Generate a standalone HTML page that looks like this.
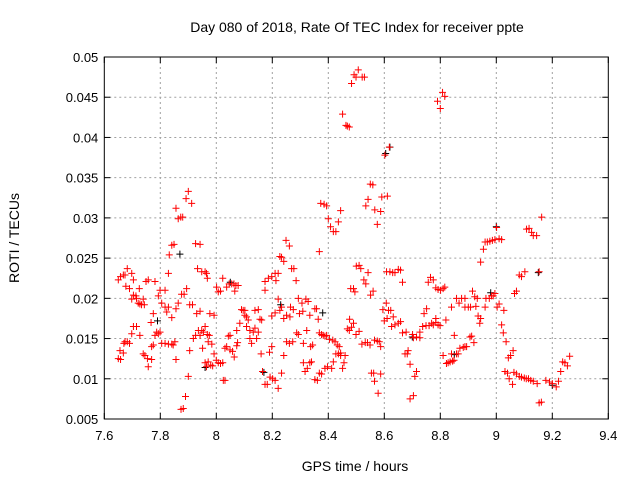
<!DOCTYPE html>
<html><head><meta charset="utf-8"><style>
html,body{margin:0;padding:0;background:#fff;}
svg{display:block;font-family:"Liberation Sans",sans-serif;}
</style></head><body>
<svg id="chart" width="640" height="480" viewBox="0 0 640 480" xmlns="http://www.w3.org/2000/svg">
<rect width="640" height="480" fill="#fff"/>
<text x="357" y="32" text-anchor="middle" font-size="14" fill="#000">Day 080 of 2018, Rate Of TEC Index for receiver ppte</text>
<text x="355" y="471" text-anchor="middle" font-size="14" fill="#000">GPS time / hours</text>
<text transform="translate(19,238) rotate(-90)" text-anchor="middle" font-size="14" fill="#000">ROTI / TECUs</text>
<g id="grid"></g>
<g id="ticks"></g>
<g id="marks"></g>
<rect x="104.3" y="57" width="504" height="362" fill="none" stroke="#000" stroke-width="1"/>
</svg>
<script>
const xTicks = [7.6,7.8,8.0,8.2,8.4,8.6,8.8,9.0,9.2,9.4];
const xTickLabels = ["7.6","7.8","8","8.2","8.4","8.6","8.8","9","9.2","9.4"];
const yTicks = [0.005,0.01,0.015,0.02,0.025,0.03,0.035,0.04,0.045,0.05];
const yTickLabels = ["0.005","0.01","0.015","0.02","0.025","0.03","0.035","0.04","0.045","0.05"];
const blackPoints = [[8.605,0.038],[8.85,0.013],[8.98,0.0207],[9.0,0.0289],[9.15,0.0232],[8.38,0.0182],[7.96,0.0114],[8.23,0.0192],[7.87,0.0255],[8.05,0.022],[8.62,0.0388],[8.7,0.0152],[9.2,0.0092],[8.17,0.0108],[7.79,0.0172]];
const redPoints = [
[7.65,0.0125],[7.658,0.0124],[7.656,0.0135],[7.668,0.0132],[7.67,0.0144],[7.674,0.0146],[7.682,0.0146],[7.69,0.0144],
[7.65,0.0223],[7.658,0.0227],[7.668,0.0229],[7.674,0.0229],[7.682,0.0237],[7.698,0.0231],[7.704,0.0223],[7.677,0.0215],[7.69,0.0212],[7.725,0.0212],
[7.704,0.0204],[7.713,0.0203],[7.698,0.0199],[7.715,0.02],[7.721,0.0194],[7.727,0.0193],[7.733,0.0192],[7.743,0.0192],[7.739,0.0199],
[7.704,0.0165],[7.715,0.0165],[7.698,0.0156],[7.727,0.0154],
[7.739,0.0131],[7.745,0.0129],[7.754,0.0125],[7.757,0.0115],[7.769,0.0124],
[7.749,0.0221],[7.757,0.0223],[7.781,0.0221],[7.775,0.0181],[7.767,0.017],[7.769,0.014],[7.775,0.0142],
[7.793,0.0203],[7.799,0.021],[7.817,0.021],[7.805,0.0194],[7.787,0.0158],[7.793,0.0156],[7.799,0.0158],[7.781,0.0154],[7.805,0.0144],[7.817,0.0144],[7.829,0.0143],[7.841,0.0143],[7.852,0.0146],[7.846,0.0142],
[7.817,0.0189],[7.829,0.0189],[7.823,0.0183],[7.841,0.0176],[7.856,0.0187],[7.864,0.0194],[7.876,0.0205],[7.885,0.0205],[7.894,0.0212],
[7.829,0.0231],[7.832,0.0254],[7.841,0.0266],[7.849,0.0267],[7.856,0.0312],[7.864,0.0299],[7.873,0.0301],[7.88,0.0301],[7.892,0.0324],[7.9,0.0333],[7.912,0.0318],
[7.856,0.0124],[7.874,0.0062],[7.882,0.0063],[7.89,0.0078],[7.9,0.0103],[7.905,0.0135],
[7.905,0.0192],[7.915,0.0192],[7.918,0.015],[7.926,0.0154],[7.93,0.0181],[7.942,0.0184],[7.936,0.016],[7.948,0.016],[7.942,0.0154],[7.954,0.0158],[7.951,0.0138],[7.96,0.0165],[7.96,0.012],[7.965,0.0115],[7.971,0.0121],[7.98,0.0117],[7.987,0.0116],[7.992,0.0131],
[7.926,0.0268],[7.942,0.0267],[7.933,0.0237],[7.948,0.0233],[7.96,0.0233],[7.965,0.0231],[7.968,0.0225],
[7.968,0.0155],[7.975,0.0154],[7.971,0.0146],[7.984,0.0143],[7.977,0.0181],[7.992,0.0179],
[8.001,0.0214],[8.015,0.0209],[8.023,0.0225],[8.007,0.0208],
[8.0,0.0123],[8.007,0.012],[8.015,0.0119],[8.025,0.0098],[8.031,0.0098],[8.023,0.012],
[8.031,0.0138],[8.037,0.014],[8.043,0.0153],[8.049,0.0154],[8.049,0.0136],[8.058,0.0134],[8.064,0.0127],[8.073,0.0141],[8.076,0.0145],[8.073,0.016],[8.084,0.0169],[8.09,0.0186],[8.096,0.0185],[8.102,0.0185],[8.108,0.0177],[8.102,0.0179],[8.114,0.0173],[8.108,0.0165],[8.12,0.016],[8.12,0.015],[8.126,0.0144],[8.132,0.0158],[8.138,0.0163],[8.144,0.015],[8.15,0.0158],[8.138,0.0185],[8.15,0.0186],[8.156,0.0174],[8.162,0.0173],
[8.037,0.0214],[8.046,0.0218],[8.055,0.0218],[8.063,0.0218],[8.07,0.0216],[8.078,0.0216],[8.066,0.0209],
[8.16,0.0131],[8.165,0.0109],[8.174,0.0093],[8.182,0.0093],[8.19,0.0133],[8.198,0.014],[8.192,0.0102],[8.201,0.01],[8.21,0.0098],[8.221,0.0088],[8.233,0.0107],[8.241,0.0129],
[8.174,0.0221],[8.174,0.021],[8.186,0.0225],[8.198,0.0227],[8.21,0.0231],[8.213,0.0222],[8.221,0.0231],[8.227,0.0252],[8.233,0.0251],[8.241,0.0246],[8.249,0.0272],[8.261,0.0265],
[8.198,0.0178],[8.21,0.0182],[8.221,0.0199],[8.227,0.0185],[8.233,0.0189],[8.241,0.0175],[8.251,0.0179],[8.263,0.0177],[8.251,0.0146],[8.261,0.0144],[8.273,0.0146],[8.265,0.0189],[8.275,0.0186],[8.269,0.0237],[8.277,0.0237],
[8.285,0.0222],[8.287,0.0157],[8.293,0.0155],[8.293,0.02],[8.306,0.0194],[8.297,0.0181],[8.309,0.0184],[8.311,0.0144],[8.32,0.0199],[8.328,0.0196],[8.323,0.016],[8.334,0.0179],[8.337,0.014],[8.344,0.0142],[8.352,0.0187],[8.358,0.0187],[8.364,0.0174],[8.368,0.0157],[8.376,0.0155],[8.382,0.0154],[8.388,0.0153],[8.394,0.0154],
[8.311,0.012],[8.317,0.0109],[8.325,0.0113],[8.334,0.012],[8.34,0.0121],[8.352,0.0099],[8.361,0.0098],[8.368,0.0107],[8.376,0.0106],[8.388,0.0113],[8.397,0.0115],[8.412,0.0113],[8.418,0.0121],[8.427,0.0131],[8.436,0.0131],[8.444,0.0129],[8.451,0.0113],[8.456,0.012],[8.46,0.0129],
[8.368,0.0258],[8.373,0.0318],[8.385,0.0317],[8.394,0.0315],[8.4,0.0299],[8.408,0.0289],[8.418,0.0283],[8.427,0.0283],[8.436,0.0295],[8.444,0.0309],
[8.404,0.0149],[8.416,0.0148],[8.424,0.0146],[8.432,0.0142],[8.439,0.014],[8.444,0.0132],
[8.451,0.0429],[8.463,0.0415],[8.468,0.0414],[8.475,0.0413],[8.483,0.0467],[8.492,0.0478],[8.499,0.0475],[8.507,0.0484],[8.476,0.0174],[8.468,0.0162],[8.475,0.016],[8.48,0.0212],[8.49,0.0212],[8.495,0.0208],[8.5,0.024],[8.51,0.0241],
[8.521,0.0475],[8.529,0.0475],
[8.483,0.0164],[8.49,0.0169],[8.499,0.0155],[8.51,0.0159],[8.52,0.0143],[8.532,0.0145],[8.54,0.0145],[8.549,0.0142],
[8.516,0.0237],[8.527,0.0223],[8.534,0.0218],[8.542,0.0232],[8.551,0.0204],[8.56,0.0209],
[8.534,0.0315],[8.542,0.0323],[8.55,0.0342],[8.559,0.0341],[8.566,0.031],[8.575,0.0292],[8.587,0.0308],[8.591,0.0326],[8.611,0.0327],[8.602,0.0378],[8.618,0.0388],
[8.554,0.0107],[8.562,0.0107],[8.565,0.0097],[8.578,0.0082],[8.587,0.0106],[8.565,0.0148],[8.575,0.0147],[8.582,0.0146],[8.587,0.014],
[8.6,0.0172],[8.595,0.0186],[8.607,0.0194],[8.615,0.0185],[8.623,0.0185],[8.61,0.0175],[8.632,0.0177],[8.626,0.0165],[8.638,0.0167],[8.65,0.0169],[8.658,0.0171],[8.665,0.0157],[8.678,0.0158],
[8.608,0.0233],[8.62,0.0233],[8.63,0.0232],[8.638,0.0232],[8.65,0.0236],[8.658,0.0235],[8.665,0.022],
[8.674,0.0131],[8.682,0.0131],[8.685,0.0135],[8.692,0.0118],[8.692,0.0075],[8.704,0.0079],[8.701,0.0155],[8.704,0.0151],[8.709,0.0103],[8.715,0.0109],[8.715,0.0152],[8.727,0.0151],[8.727,0.0158],[8.737,0.0165],[8.742,0.0181],[8.749,0.0166],[8.751,0.0187],[8.76,0.0166],[8.769,0.0169],[8.775,0.0167],[8.784,0.017],[8.792,0.0167],[8.799,0.0166],[8.784,0.0175],
[8.757,0.022],[8.765,0.0226],[8.775,0.0223],[8.784,0.0213],[8.792,0.0211],[8.801,0.021],[8.81,0.0212],[8.816,0.0214],
[8.79,0.0445],[8.8,0.0436],[8.808,0.0456],[8.816,0.0451],
[8.81,0.0129],[8.822,0.0119],[8.828,0.012],[8.835,0.0121],[8.844,0.0122],[8.84,0.0131],[8.849,0.0123],[8.858,0.0131],[8.864,0.0131],[8.87,0.0138],[8.882,0.0139],[8.888,0.014],[8.894,0.014],[8.906,0.0152],[8.912,0.0153],[8.92,0.0145],
[8.82,0.0173],[8.84,0.0189],[8.85,0.0154],[8.858,0.02],[8.867,0.0194],[8.876,0.02],[8.888,0.02],[8.888,0.0189],[8.9,0.0189],[8.908,0.0189],[8.915,0.0209],[8.923,0.0202],[8.927,0.019],[8.932,0.02],[8.935,0.0178],[8.941,0.0169],[8.944,0.0175],[8.96,0.0189],[8.963,0.02],[8.975,0.02],[8.983,0.0203],[8.989,0.0203],[8.995,0.0206],[9.003,0.0189],[9.01,0.0193],[9.019,0.0167],[9.027,0.0185],[9.025,0.0157],[9.035,0.0146],
[8.944,0.0245],[8.954,0.0261],[8.96,0.027],[8.968,0.027],[8.977,0.0271],[8.986,0.0272],[8.995,0.0273],[9.001,0.0288],[9.01,0.0274],[9.019,0.0273],
[9.031,0.0109],[9.04,0.0107],[9.046,0.01],[9.058,0.0093],[9.043,0.0126],[9.051,0.0129],[9.06,0.0135],[9.063,0.0108],[9.072,0.0106],[9.082,0.0103],[9.09,0.0102],[9.1,0.0101],[9.107,0.01],[9.115,0.01],[9.123,0.0098],[9.132,0.0097],[9.146,0.0094],[9.177,0.0098],[9.19,0.0096],[9.2,0.0094],[9.214,0.009],[9.222,0.0097],[9.23,0.0109],[9.237,0.0121],[9.245,0.012],[9.254,0.0116],[9.262,0.0128],[9.153,0.007],[9.161,0.0071],
[9.065,0.0206],[9.072,0.0209],[9.082,0.0229],[9.09,0.0227],[9.102,0.0233],[9.108,0.0286],[9.117,0.0287],[9.126,0.0282],[9.132,0.0278],[9.144,0.0278],[9.153,0.0233],[9.162,0.0301]
];
const NS="http://www.w3.org/2000/svg";
const L=104.3,R=608.3,T=57,B=419;
const xMin=7.6,xMax=9.4,yMin=0.005,yMax=0.05;
function sx(v){return L+(v-xMin)/(xMax-xMin)*(R-L);}
function sy(v){return B-(v-yMin)/(yMax-yMin)*(B-T);}
function mk(tag,attrs,parent){const e=document.createElementNS(NS,tag);for(const k in attrs)e.setAttribute(k,attrs[k]);parent.appendChild(e);return e;}
const grid=document.getElementById('grid'),ticks=document.getElementById('ticks'),marks=document.getElementById('marks');
xTicks.forEach((v,i)=>{
  const x=sx(v);
  if(i>0&&i<xTicks.length-1){const g=mk('line',{x1:x,x2:x,y1:T,y2:B,stroke:'#a0a0a0','stroke-dasharray':'2,3'},grid);
  
  }
  mk('line',{x1:x,x2:x,y1:B,y2:B-6,stroke:'#000'},ticks);
  mk('line',{x1:x,x2:x,y1:T,y2:T+6,stroke:'#000'},ticks);
  const t=mk('text',{x:x,y:B+21,'text-anchor':'middle','font-size':'13',fill:'#000'},ticks);
  t.textContent=xTickLabels[i];
  
  
});
yTicks.forEach((v,i)=>{
  const y=sy(v);
  if(i>0&&i<yTicks.length-1){const g=mk('line',{x1:L,x2:R,y1:y,y2:y,stroke:'#a0a0a0','stroke-dasharray':'2,3'},grid);
  
  }
  mk('line',{x1:L,x2:L+6,y1:y,y2:y,stroke:'#000'},ticks);
  mk('line',{x1:R,x2:R-6,y1:y,y2:y,stroke:'#000'},ticks);
  const t=mk('text',{x:L-6,y:y+5,'text-anchor':'end','font-size':'13',fill:'#000'},ticks);
  t.textContent=yTickLabels[i];
  
  
});
function plus(p,color,name){
  const x=sx(p[0]),y=sy(p[1]);
  const path=mk('path',{d:`M${x-3.5},${y}H${x+3.5}M${x},${y-3.5}V${y+3.5}`,stroke:color,'stroke-width':'1',fill:'none'},marks);
  
  
}
blackPoints.forEach(p=>plus(p,'#000','point-black'));
redPoints.forEach(p=>plus(p,'#ff0000','point-red'));
</script>
</body></html>
